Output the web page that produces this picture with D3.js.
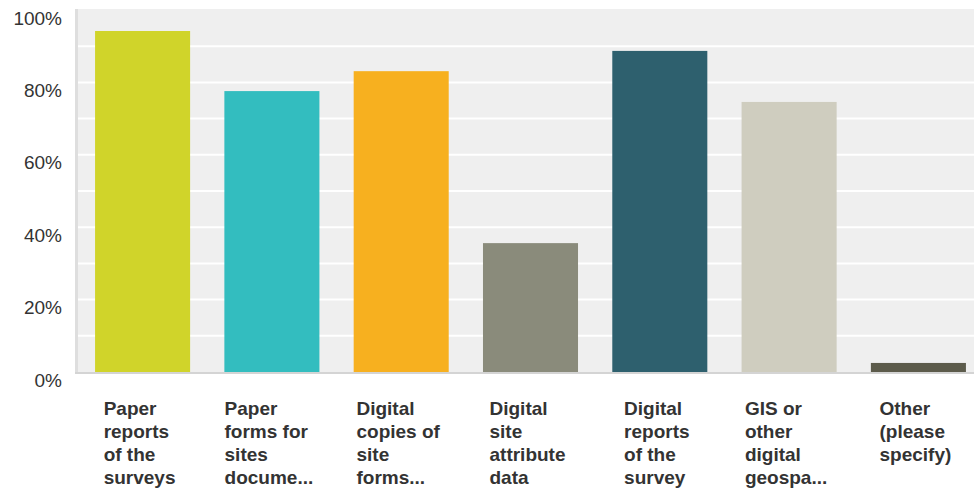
<!DOCTYPE html>
<html><head><meta charset="utf-8">
<script src="https://cdn.jsdelivr.net/npm/d3@7"></script>
<style>body{margin:0;background:#fff;}svg{display:block;font-family:"Liberation Sans",Arial,sans-serif;}</style>
</head><body><svg id="c" width="974" height="492"></svg>
<script>
const categories = [
  ["Paper","reports","of the","surveys"],
  ["Paper","forms for","sites","docume..."],
  ["Digital","copies of","site","forms..."],
  ["Digital","site","attribute","data"],
  ["Digital","reports","of the","survey"],
  ["GIS or","other","digital","geospa..."],
  ["Other","(please","specify)"]
];
const values = [94.2, 77.6, 83.1, 35.6, 88.7, 74.6, 2.5];
const colors = ["#d0d42a","#33bdbf","#f7b01f","#8a8b7b","#2e606e","#cfcdbf","#5c5b4b"];
const yTicks = [0,20,40,60,80,100];
const gridTicks = [10,20,30,40,50,60,70,80,90];

(function(){
const svg = d3.select("#c");
const pL = 78, pR = 974, pT = 10, pB = 372;
const x = d3.scaleBand().domain(d3.range(categories.length)).range([pL, 983]).paddingInner(0.265).paddingOuter(0.132);
const y = d3.scaleLinear().domain([0,100]).range([pB, pT]);

svg.append("rect").attr("x", pL).attr("y", pT-1).attr("width", pR-pL).attr("height", pB-pT+1).attr("fill", "#efefef");
svg.append("g").selectAll("line").data(gridTicks).join("line")
  .attr("x1", pL).attr("x2", pR).attr("y1", d=>y(d)).attr("y2", d=>y(d))
  .attr("stroke", "#fff").attr("stroke-width", 2);
svg.append("rect").attr("x", 75).attr("y", pT-1).attr("width", 3).attr("height", pB-pT+3).attr("fill", "#dedede");
svg.append("rect").attr("x", 75).attr("y", pB).attr("width", pR-75).attr("height", 2).attr("fill", "#d4d4d4");

svg.append("g").selectAll("rect").data(values).join("rect")
  .attr("x", (d,i)=>x(i)).attr("width", x.bandwidth())
  .attr("y", d=>y(d)).attr("height", d=>y(0)-y(d))
  .attr("fill", (d,i)=>colors[i]);

const yAxis = d3.axisLeft(y).tickValues(yTicks).tickFormat(d=>d+"%").tickSize(0).tickPadding(0);
const ga = svg.append("g").attr("transform", "translate(62,8)").call(yAxis);
ga.select(".domain").remove();
ga.selectAll("text").attr("font-size", 19).attr("fill", "#333").attr("font-family", "\"Liberation Sans\",Arial,sans-serif");

const lab = svg.append("g");
categories.forEach((lines, i) => {
  const t = lab.append("text").attr("font-size", 19).attr("font-weight", "bold").attr("fill", "#333");
  lines.forEach((s, k) => t.append("tspan").attr("x", 0).attr("y", 415 + k*23).text(s));
  let maxW = 0;
  t.selectAll("tspan").each(function(){ maxW = Math.max(maxW, this.getComputedTextLength()); });
  const cx = x(i) + x.bandwidth()/2;
  t.selectAll("tspan").attr("x", cx - maxW/2 - 3);
});
})();
</script></body></html>
